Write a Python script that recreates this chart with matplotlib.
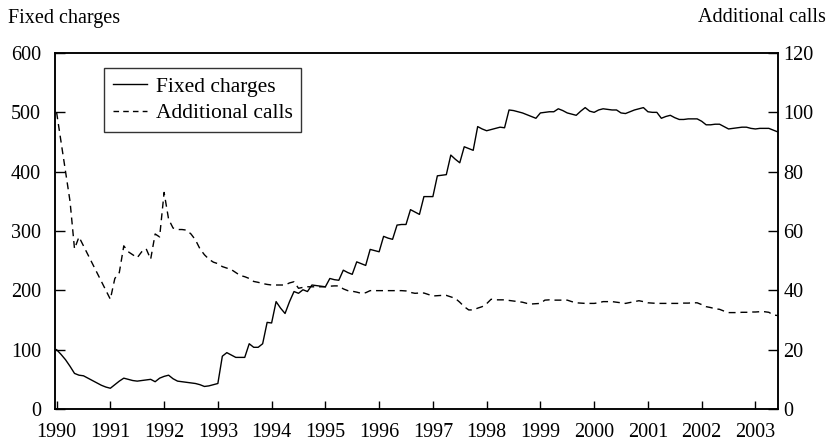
import numpy as np
import matplotlib.pyplot as plt
from matplotlib.lines import Line2D


# MONTHLY DATA, JAN 1990 - JUN 2003

start_year = 1990

fixed_charges = [
    100, 92, 83, 72, 60, 57, 56, 52, 48, 44, 40, 37,            # 1990
    35, 41, 47, 52, 50, 48, 47, 48, 49, 50, 46, 52,             # 1991
    55, 57, 51, 47, 46, 45, 44, 43, 41, 38, 39, 41,             # 1992
    43, 89, 95, 91, 87, 87, 87, 110, 104, 104, 110, 146,        # 1993
    145, 181, 170, 161, 181, 198, 195, 201, 198, 209, 208, 207, # 1994
    206, 220, 218, 217, 234, 230, 227, 248, 245, 242, 269, 267, # 1995
    265, 291, 288, 286, 310, 311, 311, 336, 332, 328, 358, 358, # 1996
    358, 393, 394, 395, 428, 421, 415, 442, 439, 436, 476, 472, # 1997
    469, 471, 473, 475, 474, 504, 503, 501, 499, 496, 493, 490, # 1998
    499, 500, 501, 501, 506, 503, 499, 497, 495, 502, 508, 502, # 1999
    500, 504, 506, 505, 504, 504, 499, 498, 501, 504, 506, 508, # 2000
    501, 500, 500, 490, 493, 495, 491, 488, 488, 489, 489, 489, # 2001
    485, 479, 479, 480, 480, 476, 472, 473, 474, 475, 475, 473, # 2002
    472, 473, 473, 473, 470, 467,                               # 2003
]

additional_calls = [
    100, 90, 80, 70, 54, 58, 55, 52, 49, 46, 43, 40,                        # 1990
    37, 44, 46, 55, 53, 52, 51, 53, 54, 50.5, 59, 58,                       # 1991
    73, 64, 61, 60.5, 60.5, 60.3, 59, 57, 54, 52, 50.5, 49.5,               # 1992
    49, 48, 47.5, 47, 46, 45, 44.6, 44, 43, 42.7, 42.3, 42,                 # 1993
    41.8, 41.8, 41.8, 41.8, 42.5, 42.9, 40.7, 41, 41.2, 41.2, 41.2, 41.2,   # 1994
    41.2, 41.4, 41.5, 41.5, 40.5, 39.9, 39.7, 39.4, 39, 39.2, 39.9, 39.9,   # 1995
    39.9, 39.9, 39.9, 39.9, 39.9, 39.9, 39.8, 39.3, 39, 39.1, 39.1, 38.6,   # 1996
    38.1, 38.2, 38.3, 38.3, 37.8, 37.3, 36, 34.5, 33.4, 33.4, 34, 34.5,     # 1997
    35.5, 37, 36.8, 36.8, 36.8, 36.6, 36.4, 36.2, 36, 35.6, 35.4, 35.5,     # 1998
    35.6, 36.7, 36.8, 36.7, 36.7, 36.7, 36.7, 36.2, 35.8, 35.7, 35.6, 35.6, # 1999
    35.6, 35.8, 36.2, 36.2, 36.2, 36, 35.8, 35.6, 35.9, 36.2, 36.5, 36.2,   # 2000
    35.8, 35.7, 35.6, 35.6, 35.6, 35.6, 35.6, 35.6, 35.7, 35.7, 35.8, 35.8, # 2001
    35.2, 34.5, 34.2, 33.8, 33.6, 33, 32.5, 32.5, 32.5, 32.6, 32.6, 32.7,   # 2002
    32.7, 32.8, 32.8, 32.6, 31.7, 31.5,                                     # 2003
]

year_ticks = list(range(1990, 2004))
left_ticks = [0, 100, 200, 300, 400, 500, 600]
right_ticks = [0, 20, 40, 60, 80, 100, 120]


# SETUP

plt.rcParams['font.family'] = ['Liberation Serif', 'DejaVu Serif']
plt.rcParams['font.size'] = 14.5

months = np.arange(len(fixed_charges))
x = start_year + months / 12.0

fig = plt.figure(figsize=(8.28, 4.44), dpi=100)
ax = fig.add_axes([0.0664, 0.0788, 0.8732, 0.8018])
ax2 = ax.twinx()

ax.plot(x, fixed_charges, color='black', linewidth=1.0)
ax2.plot(x, additional_calls, color='black', linewidth=1.0,
         linestyle=(0, (5, 3.5)))

ax.set_xlim(1989.97, 2003.42)
ax.set_ylim(0, 600)
ax2.set_ylim(0, 120)

ax.set_xticks(year_ticks)
ax.set_yticks(left_ticks)
ax2.set_yticks(right_ticks)

ax.tick_params(axis='x', direction='in', length=6, width=1, pad=10)
ax.tick_params(axis='y', direction='in', length=7, width=1, pad=10)
ax2.tick_params(axis='y', direction='in', length=7, width=1, pad=4)

for a in (ax, ax2):
    for sp in a.spines.values():
        sp.set_linewidth(1.1)
        sp.set_color('black')

# axis titles above the frame
fig.text(8 / 828, 1 - 18 / 444, "Fixed charges", ha='left', va='center')
fig.text(826 / 828, 1 - 18 / 444, "Additional calls", ha='right', va='center')


# LEGEND

handles = [
    Line2D([], [], color='black', linewidth=1.0),
    Line2D([], [], color='black', linewidth=1.0, linestyle=(0, (4, 3))),
]
leg = ax2.legend(
    handles, ["Fixed charges", "Additional calls"],
    loc='upper left',
    bbox_to_anchor=(0.068, 0.958),
    borderaxespad=0,
    fontsize=15.5,
    frameon=True,
    fancybox=False,
    handlelength=1.6,
    handletextpad=0.4,
    borderpad=0.4,
    labelspacing=0.3,
)
leg.get_frame().set_edgecolor('black')
leg.get_frame().set_linewidth(1.0)

plt.savefig("out.png", dpi=100)
